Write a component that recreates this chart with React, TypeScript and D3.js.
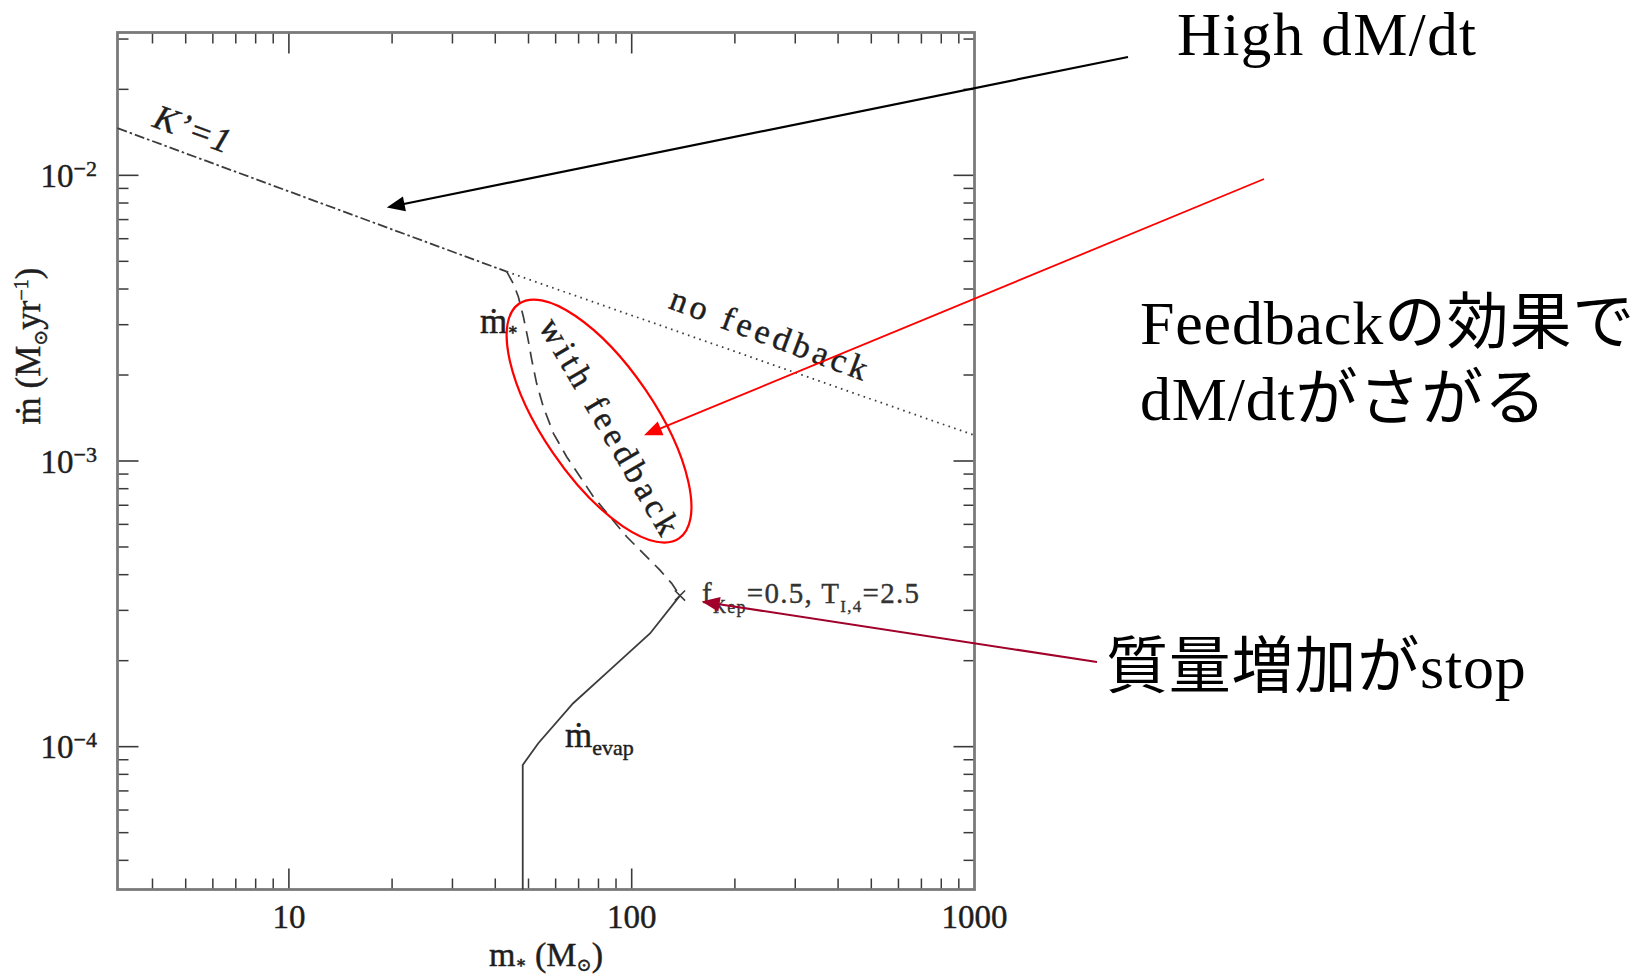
import React from 'react';
import * as d3 from 'd3';

// ---------- data ----------
// axis domains (log scales)
const massDomain: [number, number] = [Math.pow(10, 0.5), 1000];
const rateDomain: [number, number] = [Math.pow(10, -4.5), Math.pow(10, -1.5)];

// tick values and labels
const xMajorTicks = [10, 100, 1000];
const xTickLabels = ['10', '100', '1000'];
const yMajorTicks = [1e-2, 1e-3, 1e-4];
const yTickExponents = ['−2', '−3', '−4'];

// K'=1 line (dash-dot)
const kPrimeMass = [3.162, 43.2];
const kPrimeRate = [0.01462, 0.0046];

// no feedback (dotted)
const noFbMass = [43.2, 1000];
const noFbRate = [0.0046, 0.00123];

// with feedback (dashed)
const fbMass = [43.2, 45.1, 46.7, 48.3, 49.9, 51.1, 52.8, 55.2, 59.1, 64.6, 70.7, 77.3, 86.4, 96.7, 108.1, 120.9, 130.8, 138.3];
const fbRate = [0.0046, 0.00419, 0.00376, 0.0032, 0.00265, 0.00226, 0.00187, 0.00155, 0.00125, 0.001035, 0.000881, 0.00075, 0.000638, 0.000543, 0.000475, 0.000415, 0.000373, 0.000338];

// evaporation limit (solid)
const evapMass = [48.1, 48.1, 53.4, 67.5, 86.4, 113.1, 138.3];
const evapRate = [3.1623e-5, 8.63e-5, 1.028e-4, 1.419e-4, 1.856e-4, 2.49e-4, 3.38e-4];

// end point marker (x)
const stopMass = [138.3];
const stopRate = [3.38e-4];

// ---------- layout ----------
const W = 1651;
const H = 979;
const PL = 117.5;
const PT = 32.5;
const PW = 857;
const PH = 857;

const serifFont = '"Liberation Serif", "Times New Roman", Times, "DejaVu Serif", serif';
const annSerif = 'Liberation Serif';
const jpFont = 'Noto Sans CJK JP';

function zip(a: number[], b: number[]): [number, number][] {
  return a.map((v, i) => [v, b[i]] as [number, number]);
}

function Arrow({ x0, y0, x1, y1, color, width, headLen = 18, headW = 7.5 }: any) {
  const dx = x1 - x0;
  const dy = y1 - y0;
  const len = Math.hypot(dx, dy);
  const ux = dx / len;
  const uy = dy / len;
  const bx = x1 - ux * headLen;
  const by = y1 - uy * headLen;
  const px = -uy;
  const py = ux;
  const pts = [
    [x1, y1],
    [bx + px * headW, by + py * headW],
    [bx - px * headW, by - py * headW],
  ]
    .map((p) => p.join(','))
    .join(' ');
  return (
    <g>
      <line x1={x0} y1={y0} x2={bx + ux * 2} y2={by + uy * 2} stroke={color} strokeWidth={width} />
      <polygon points={pts} fill={color} />
    </g>
  );
}

export default function App() {
  const x = d3.scaleLog().domain(massDomain).range([PL, PL + PW]);
  const y = d3.scaleLog().domain(rateDomain).range([PT + PH, PT]);
  const line = d3
    .line<[number, number]>()
    .x((d) => x(d[0]))
    .y((d) => y(d[1]));

  // minor ticks
  const xMinor: number[] = [];
  for (const dec of [1, 10, 100]) for (let k = 2; k <= 9; k++) {
    const v = dec * k;
    if (v > massDomain[0] && v < massDomain[1] && !xMajorTicks.includes(v)) xMinor.push(v);
  }
  const yMinor: number[] = [];
  for (const dec of [1e-5, 1e-4, 1e-3, 1e-2]) for (let k = 2; k <= 9; k++) {
    const v = dec * k;
    if (v > rateDomain[0] && v < rateDomain[1]) yMinor.push(v);
  }

  const majLen = 21;
  const minLen = 11;
  const tickColor = '#3a3a3a';
  const curveColor = '#3c3c3c';
  const textColor = '#1e1e1e';
  const tStroke = { stroke: textColor, strokeWidth: 0.45 };

  // annotation anchors (data space inside the plot)
  const blackTip: [number, number] = [19.3, 0.00772];
  const redTip: [number, number] = [108.6, 0.00123];
  const darkTip: [number, number] = [160, 3.22e-4];
  const ellipseC: [number, number] = [80.3, 0.00138];

  const sym = d3.symbol().type(d3.symbolX).size(70);

  return (
    <svg
      width={W}
      height={H}
      style={{ position: 'absolute', left: 0, top: 0, background: '#fff' }}
      xmlns="http://www.w3.org/2000/svg"
    >
      <rect x={0} y={0} width={W} height={H} fill="#fff" />

      {/* ticks: bottom / top */}
      {xMajorTicks.filter((t) => t < massDomain[1]).map((t) => (
        <g key={'xM' + t} stroke={tickColor} strokeWidth={1.6}>
          <line x1={x(t)} x2={x(t)} y1={PT + PH} y2={PT + PH - majLen} />
          <line x1={x(t)} x2={x(t)} y1={PT} y2={PT + majLen} />
        </g>
      ))}
      {xMinor.map((t) => (
        <g key={'xm' + t} stroke={tickColor} strokeWidth={1.5}>
          <line x1={x(t)} x2={x(t)} y1={PT + PH} y2={PT + PH - minLen} />
          <line x1={x(t)} x2={x(t)} y1={PT} y2={PT + minLen} />
        </g>
      ))}
      {/* ticks: left / right */}
      {yMajorTicks.map((t) => (
        <g key={'yM' + t} stroke={tickColor} strokeWidth={1.6}>
          <line x1={PL} x2={PL + majLen} y1={y(t)} y2={y(t)} />
          <line x1={PL + PW} x2={PL + PW - majLen} y1={y(t)} y2={y(t)} />
        </g>
      ))}
      {yMinor.map((t) => (
        <g key={'ym' + t} stroke={tickColor} strokeWidth={1.5}>
          <line x1={PL} x2={PL + minLen} y1={y(t)} y2={y(t)} />
          <line x1={PL + PW} x2={PL + PW - minLen} y1={y(t)} y2={y(t)} />
        </g>
      ))}

      {/* frame */}
      <rect x={PL} y={PT} width={PW} height={PH} fill="none" stroke="#7a7a7a" strokeWidth={2.8} />

      {/* tick labels */}
      {xMajorTicks.map((t, i) => (
        <text key={'xl' + t} x={x(t)} y={928} textAnchor="middle" fontFamily={serifFont} fontSize={33} fill={textColor} {...tStroke}>
          {xTickLabels[i]}
        </text>
      ))}
      {yMajorTicks.map((t, i) => (
        <text key={'yl' + t} x={97} y={y(t) + 11.5} textAnchor="end" fontFamily={serifFont} fontSize={33} fill={textColor} {...tStroke}>
          10
          <tspan dy={-11} fontSize={22}>{yTickExponents[i]}</tspan>
        </text>
      ))}

      {/* axis titles */}
      <text x={546} y={966} textAnchor="middle" fontFamily={serifFont} fontSize={34} fill={textColor} {...tStroke}>
        m
        <tspan dy={2} fontSize={16} fontWeight="bold">∗</tspan>
        <tspan dy={-2}>{'  (M'}</tspan>
        <tspan dy={5} fontSize={18}>⊙</tspan>
        <tspan dy={-5}>)</tspan>
      </text>
      <text
        transform={`translate(40,346) rotate(-90)`}
        textAnchor="middle"
        fontFamily={serifFont}
        fontSize={35}
        fill={textColor}
        {...tStroke}
      >
        {'ṁ  (M'}
        <tspan dy={7} fontSize={19}>⊙</tspan>
        <tspan dy={-7}>yr</tspan>
        <tspan dy={-12} fontSize={20}>−1</tspan>
        <tspan dy={12}>)</tspan>
      </text>

      {/* curves */}
      <path
        d={line(zip(kPrimeMass, kPrimeRate)) || ''}
        fill="none"
        stroke={curveColor}
        strokeWidth={1.8}
        strokeDasharray="10,3,2.5,3"
      />
      <path
        d={line(zip(noFbMass, noFbRate)) || ''}
        fill="none"
        stroke={curveColor}
        strokeWidth={1.8}
        strokeDasharray="1.6,4.4"
      />
      <path
        d={line(zip(fbMass, fbRate)) || ''}
        fill="none"
        stroke={curveColor}
        strokeWidth={1.7}
        strokeDasharray="13,8"
      />
      <path d={line(zip(evapMass, evapRate)) || ''} fill="none" stroke={curveColor} strokeWidth={1.8} />
      {zip(stopMass, stopRate).map((d, i) => (
        <path
          key={'st' + i}
          d={sym() || ''}
          transform={`translate(${x(d[0])},${y(d[1])})`}
          fill="none"
          stroke={curveColor}
          strokeWidth={1.6}
        />
      ))}

      {/* in-plot labels */}
      <text
        transform={`translate(${x(5.11)},${y(0.01329)}) rotate(20)`}
        textAnchor="middle"
        fontFamily={serifFont}
        fontStyle="italic"
        fontSize={35}
        letterSpacing={1}
        fill={textColor}
        {...tStroke}
      >
        K’=1
      </text>
      <text
        transform={`translate(${x(248)},${y(0.002547)}) rotate(20.5)`}
        textAnchor="middle"
        fontFamily={serifFont}
        fontSize={34}
        letterSpacing={4.3}
        fill={textColor}
        {...tStroke}
      >
        no feedback
      </text>
      <text
        transform={`translate(${x(81.2)},${y(0.001243)}) rotate(59.7)`}
        textAnchor="middle"
        fontFamily={serifFont}
        fontSize={34}
        letterSpacing={4.4}
        fill={textColor}
        {...tStroke}
      >
        with feedback
      </text>
      <text x={x(36.1)} y={y(0.002805)} fontFamily={serifFont} fontSize={35} fill={textColor} {...tStroke}>
        ṁ
        <tspan dy={2} fontSize={16} fontWeight="bold">∗</tspan>
      </text>
      <text x={x(63.9)} y={y(1.0e-4)} fontFamily={serifFont} fontSize={35} fill={textColor} {...tStroke}>
        ṁ
        <tspan dy={8} fontSize={22}>evap</tspan>
      </text>
      <text x={x(160.3)} y={y(3.18e-4)} fontFamily={serifFont} fontSize={29} letterSpacing={1.3} fill="#333" stroke="#333" strokeWidth={0.35}>
        f
        <tspan dy={10} fontSize={18}>Kep</tspan>
        <tspan dy={-10}>{'=0.5,  T'}</tspan>
        <tspan dy={9} fontSize={17}>I,4</tspan>
        <tspan dy={-9}>=2.5</tspan>
      </text>

      {/* red ellipse */}
      <ellipse
        cx={0}
        cy={0}
        rx={142}
        ry={56}
        transform={`translate(${x(ellipseC[0])},${y(ellipseC[1])}) rotate(55.7)`}
        fill="none"
        stroke="#ff0000"
        strokeWidth={2.2}
      />

      {/* annotation arrows */}
      <Arrow x0={1128} y0={57} x1={x(blackTip[0])} y1={y(blackTip[1])} color="#000" width={2.2} />
      <Arrow x0={1264} y0={179} x1={x(redTip[0])} y1={y(redTip[1])} color="#ff0000" width={1.8} />
      <Arrow x0={1097} y0={662} x1={x(darkTip[0])} y1={y(darkTip[1])} color="#a0002a" width={2} />

      {/* annotation texts */}
      <text x={1177} y={55} style={{ fontFamily: annSerif, fontSize: '61px', letterSpacing: '1.4px' }} fill="#000">
        High dM/dt
      </text>
      <text style={{ fontSize: '62px', letterSpacing: '0.8px' }} fill="#000">
        <tspan x={1140} y={344} style={{ fontFamily: annSerif }}>Feedback</tspan>
        <tspan style={{ fontFamily: jpFont }}>の効果で</tspan>
        <tspan x={1140} y={420} style={{ fontFamily: annSerif }}>dM/dt</tspan>
        <tspan style={{ fontFamily: jpFont }}>がさがる</tspan>
      </text>
      <text x={1106} y={688} style={{ fontSize: '62px', letterSpacing: '0.8px' }} fill="#000">
        <tspan style={{ fontFamily: jpFont }}>質量増加が</tspan>
        <tspan style={{ fontFamily: annSerif }}>stop</tspan>
      </text>
    </svg>
  );
}
